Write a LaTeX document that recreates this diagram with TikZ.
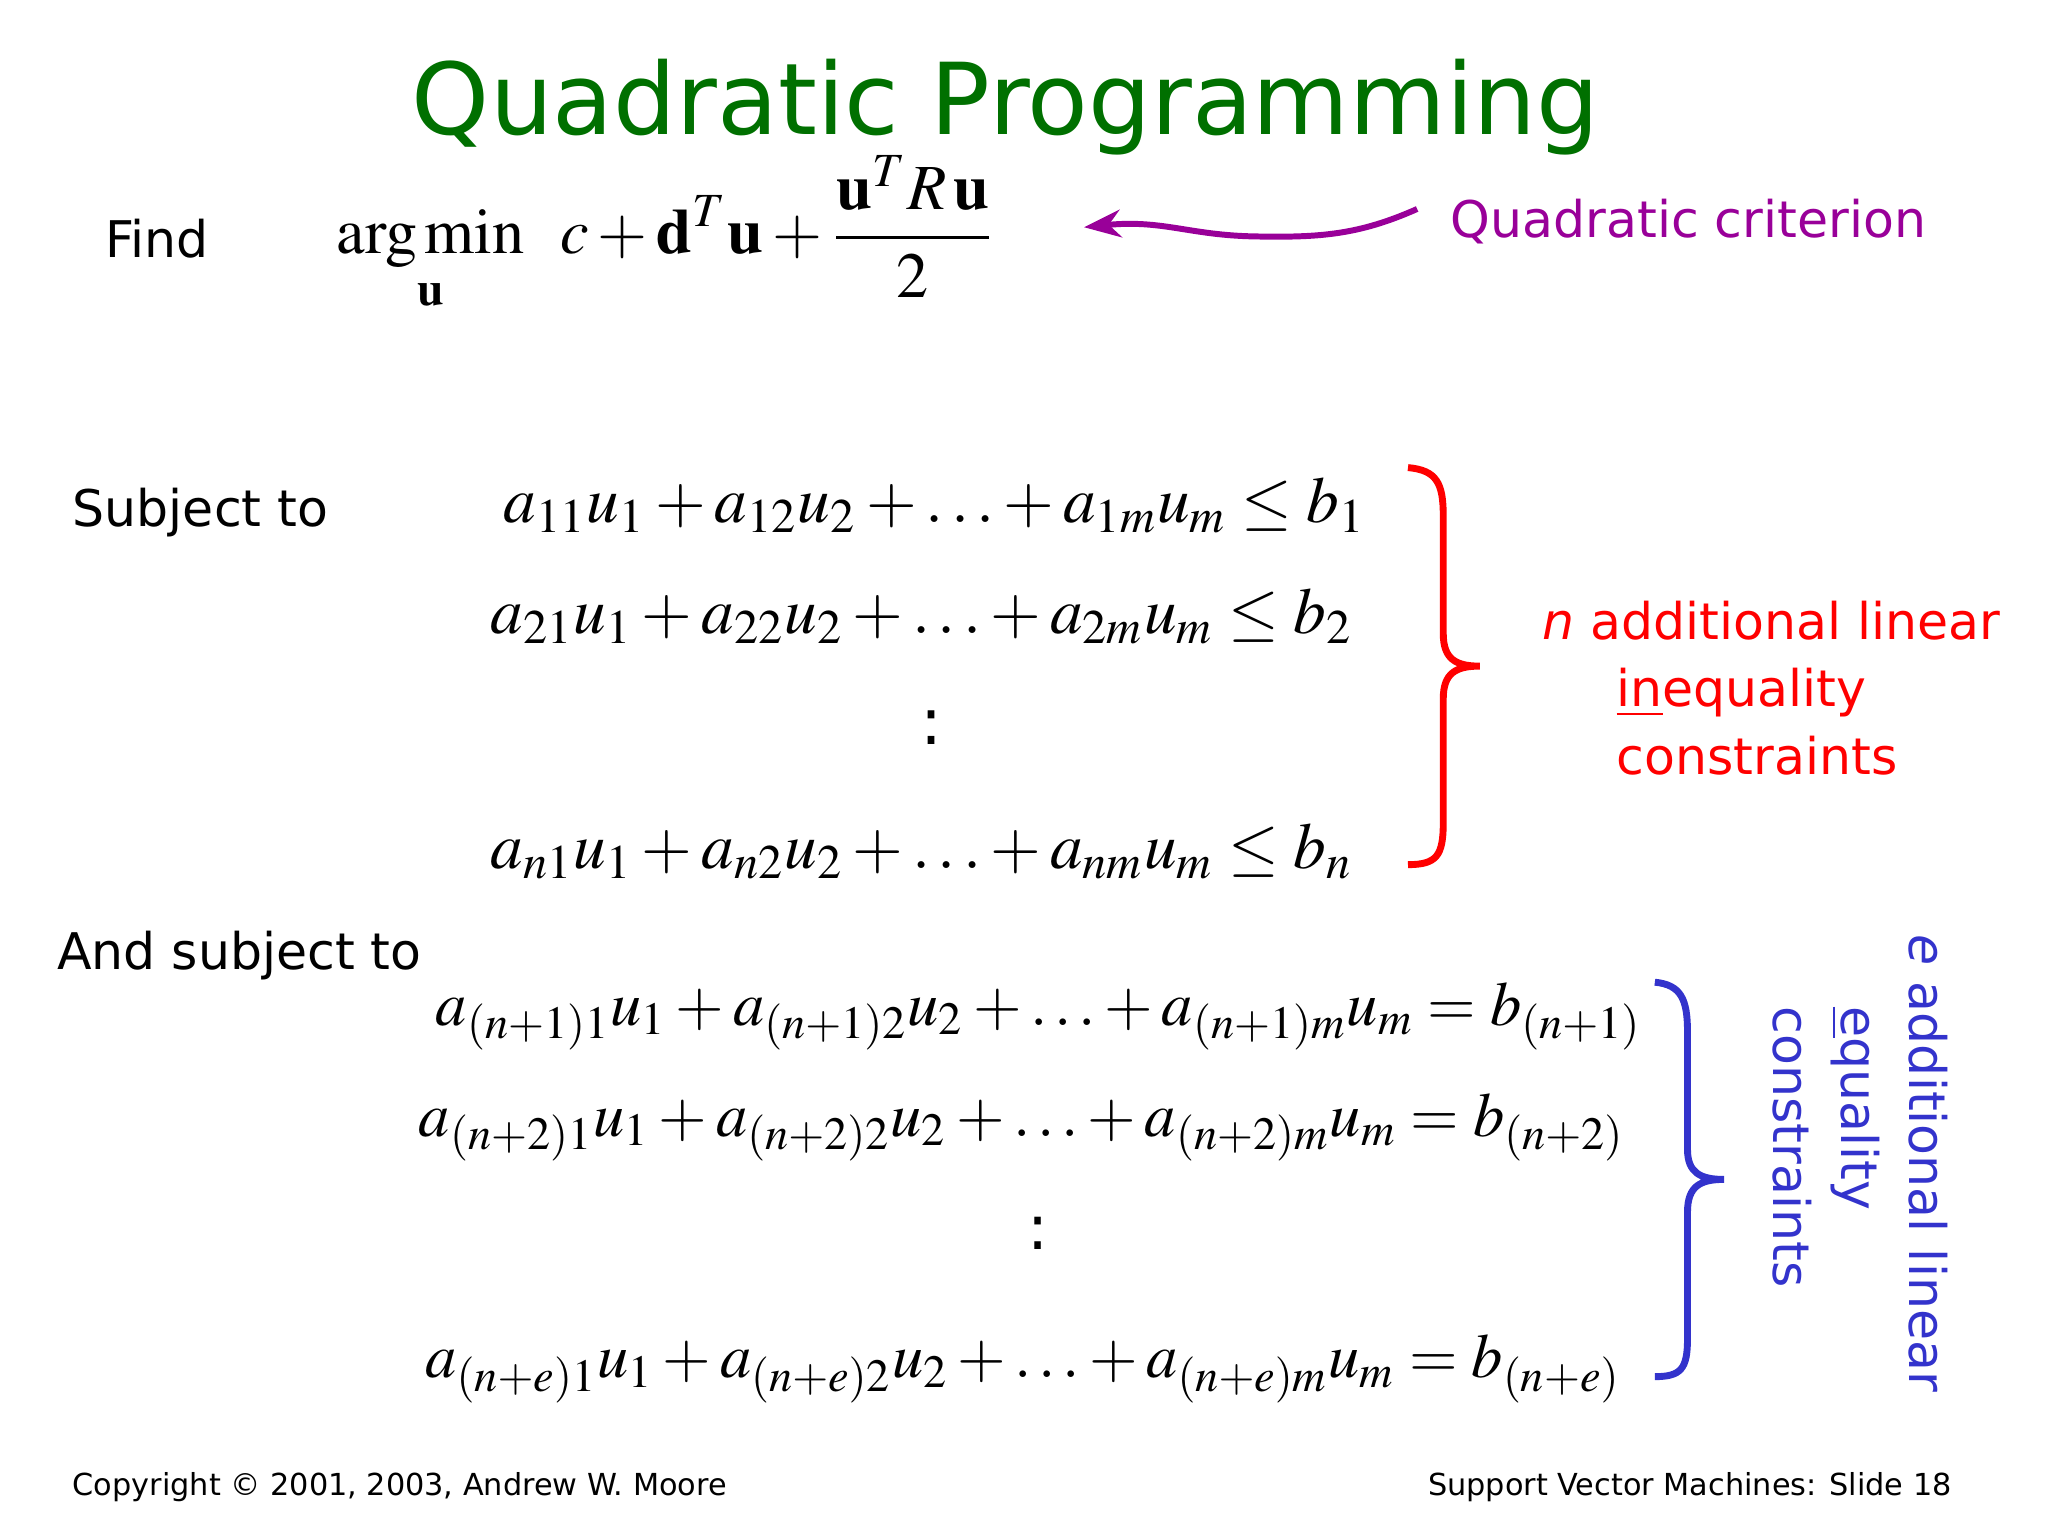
\documentclass[tikz,border=0pt]{standalone}
\usepackage{mathptmx}
\usepackage[no-math]{fontspec}
\setmainfont{DejaVu Sans}
\usetikzlibrary{arrows.meta}
\definecolor{tgreen}{RGB}{0,112,0}
\definecolor{tpurple}{RGB}{153,0,153}
\definecolor{tblue}{RGB}{51,51,204}
\begin{document}
\begin{tikzpicture}[x=0.01cm,y=-0.01cm,
  lbl/.style={inner sep=0pt,anchor=base west,font=\fontsize{11}{13}\selectfont},
  eqn/.style={inner sep=0pt,anchor=base west,font=\fontsize{14.2}{17}\selectfont},
  eqq/.style={inner sep=0pt,anchor=base west,font=\fontsize{13.6}{16}\selectfont},
  foot/.style={inner sep=0pt,anchor=base west,font=\fontsize{6.6}{8}\selectfont},
  note/.style={inner sep=0pt,anchor=base west,font=\fontsize{11}{13}\selectfont}]
\useasboundingbox (0,0) rectangle (1568,1176);
\node[inner sep=0pt,anchor=base,text=tgreen,font=\fontsize{21.6}{26}\selectfont] (title) at (770,103) {Quadratic Programming};
\node[lbl] (find) at (80,197) {Find};
\node[eqn,font=\fontsize{14}{17}\selectfont] (obj) at (257,194) {$\displaystyle \mathop{\mathrm{arg\,min}}_{\mathbf u}\;\; c+\mathbf d^T\mathbf u+\frac{\mathbf u^T R\,\mathbf u}{2}$};
\node[note,text=tpurple] (qc) at (1110,182) {Quadratic criterion};
\coordinate (qs) at (1085,160);
\coordinate (qe) at (830,174);
\draw[tpurple,line width=1.3pt,-{Stealth[length=8pt]}] (qs) .. controls (1040,180) and (1010,182) .. (960,181) .. controls (910,180) and (890,168) .. (qe);
\node[lbl] (s1) at (55,403) {Subject to};
\node[eqn] (i1) at (385,400) {$a_{11}u_1+a_{12}u_2+\ldots+a_{1m}u_m\le b_1$};
\node[eqn] (i2) at (375,485) {$a_{21}u_1+a_{22}u_2+\ldots+a_{2m}u_m\le b_2$};
\node[eqn,anchor=base] (i3) at (713,570) {:};
\node[eqn] (i4) at (375,665) {$a_{n1}u_1+a_{n2}u_2+\ldots+a_{nm}u_m\le b_n$};
\draw[red,line width=1.5pt] (1078,358) .. controls (1100,360) and (1105,370) .. (1105,395) -- (1105,485) .. controls (1105,505) and (1115,510) .. (1133,510) .. controls (1115,510) and (1105,515) .. (1105,535) -- (1105,630) .. controls (1105,655) and (1100,662) .. (1078,662);
\node[note,text=red] (r1) at (1180,490) {\textit{n} additional linear};
\node[note,text=red] (r2) at (1237,541) {\underline{in}equality};
\node[note,text=red] (r3) at (1237,593) {constraints};
\node[lbl] (s2) at (43,742) {And subject to};
\node[eqq] (e1) at (333,785) {$a_{(n+1)1}u_1+a_{(n+1)2}u_2+\ldots+a_{(n+1)m}u_m=b_{(n+1)}$};
\node[eqq] (e2) at (320,870) {$a_{(n+2)1}u_1+a_{(n+2)2}u_2+\ldots+a_{(n+2)m}u_m=b_{(n+2)}$};
\node[eqq,anchor=base] (e3) at (795,957) {:};
\node[eqq] (e4) at (325,1055) {$a_{(n+e)1}u_1+a_{(n+e)2}u_2+\ldots+a_{(n+e)m}u_m=b_{(n+e)}$};
\draw[tblue,line width=1.5pt] (1267,752) .. controls (1287,754) and (1292,765) .. (1292,790) -- (1292,880) .. controls (1292,898) and (1302,903) .. (1320,903) .. controls (1302,903) and (1292,908) .. (1292,928) -- (1292,1025) .. controls (1292,1048) and (1287,1054) .. (1267,1054);
\node[note,text=tblue,rotate=-90] (b1) at (1462,715) {\textit{e} additional linear};
\node[note,text=tblue,rotate=-90] (b2) at (1410,770) {\underline{e}quality};
\node[note,text=tblue,rotate=-90] (b3) at (1358,770) {constraints};
\node[foot] (c1) at (55,1145) {Copyright © 2001, 2003, Andrew W. Moore};
\node[foot,anchor=base east] (c2) at (1495,1145) {Support Vector Machines: Slide 18};
\end{tikzpicture}
\end{document}
